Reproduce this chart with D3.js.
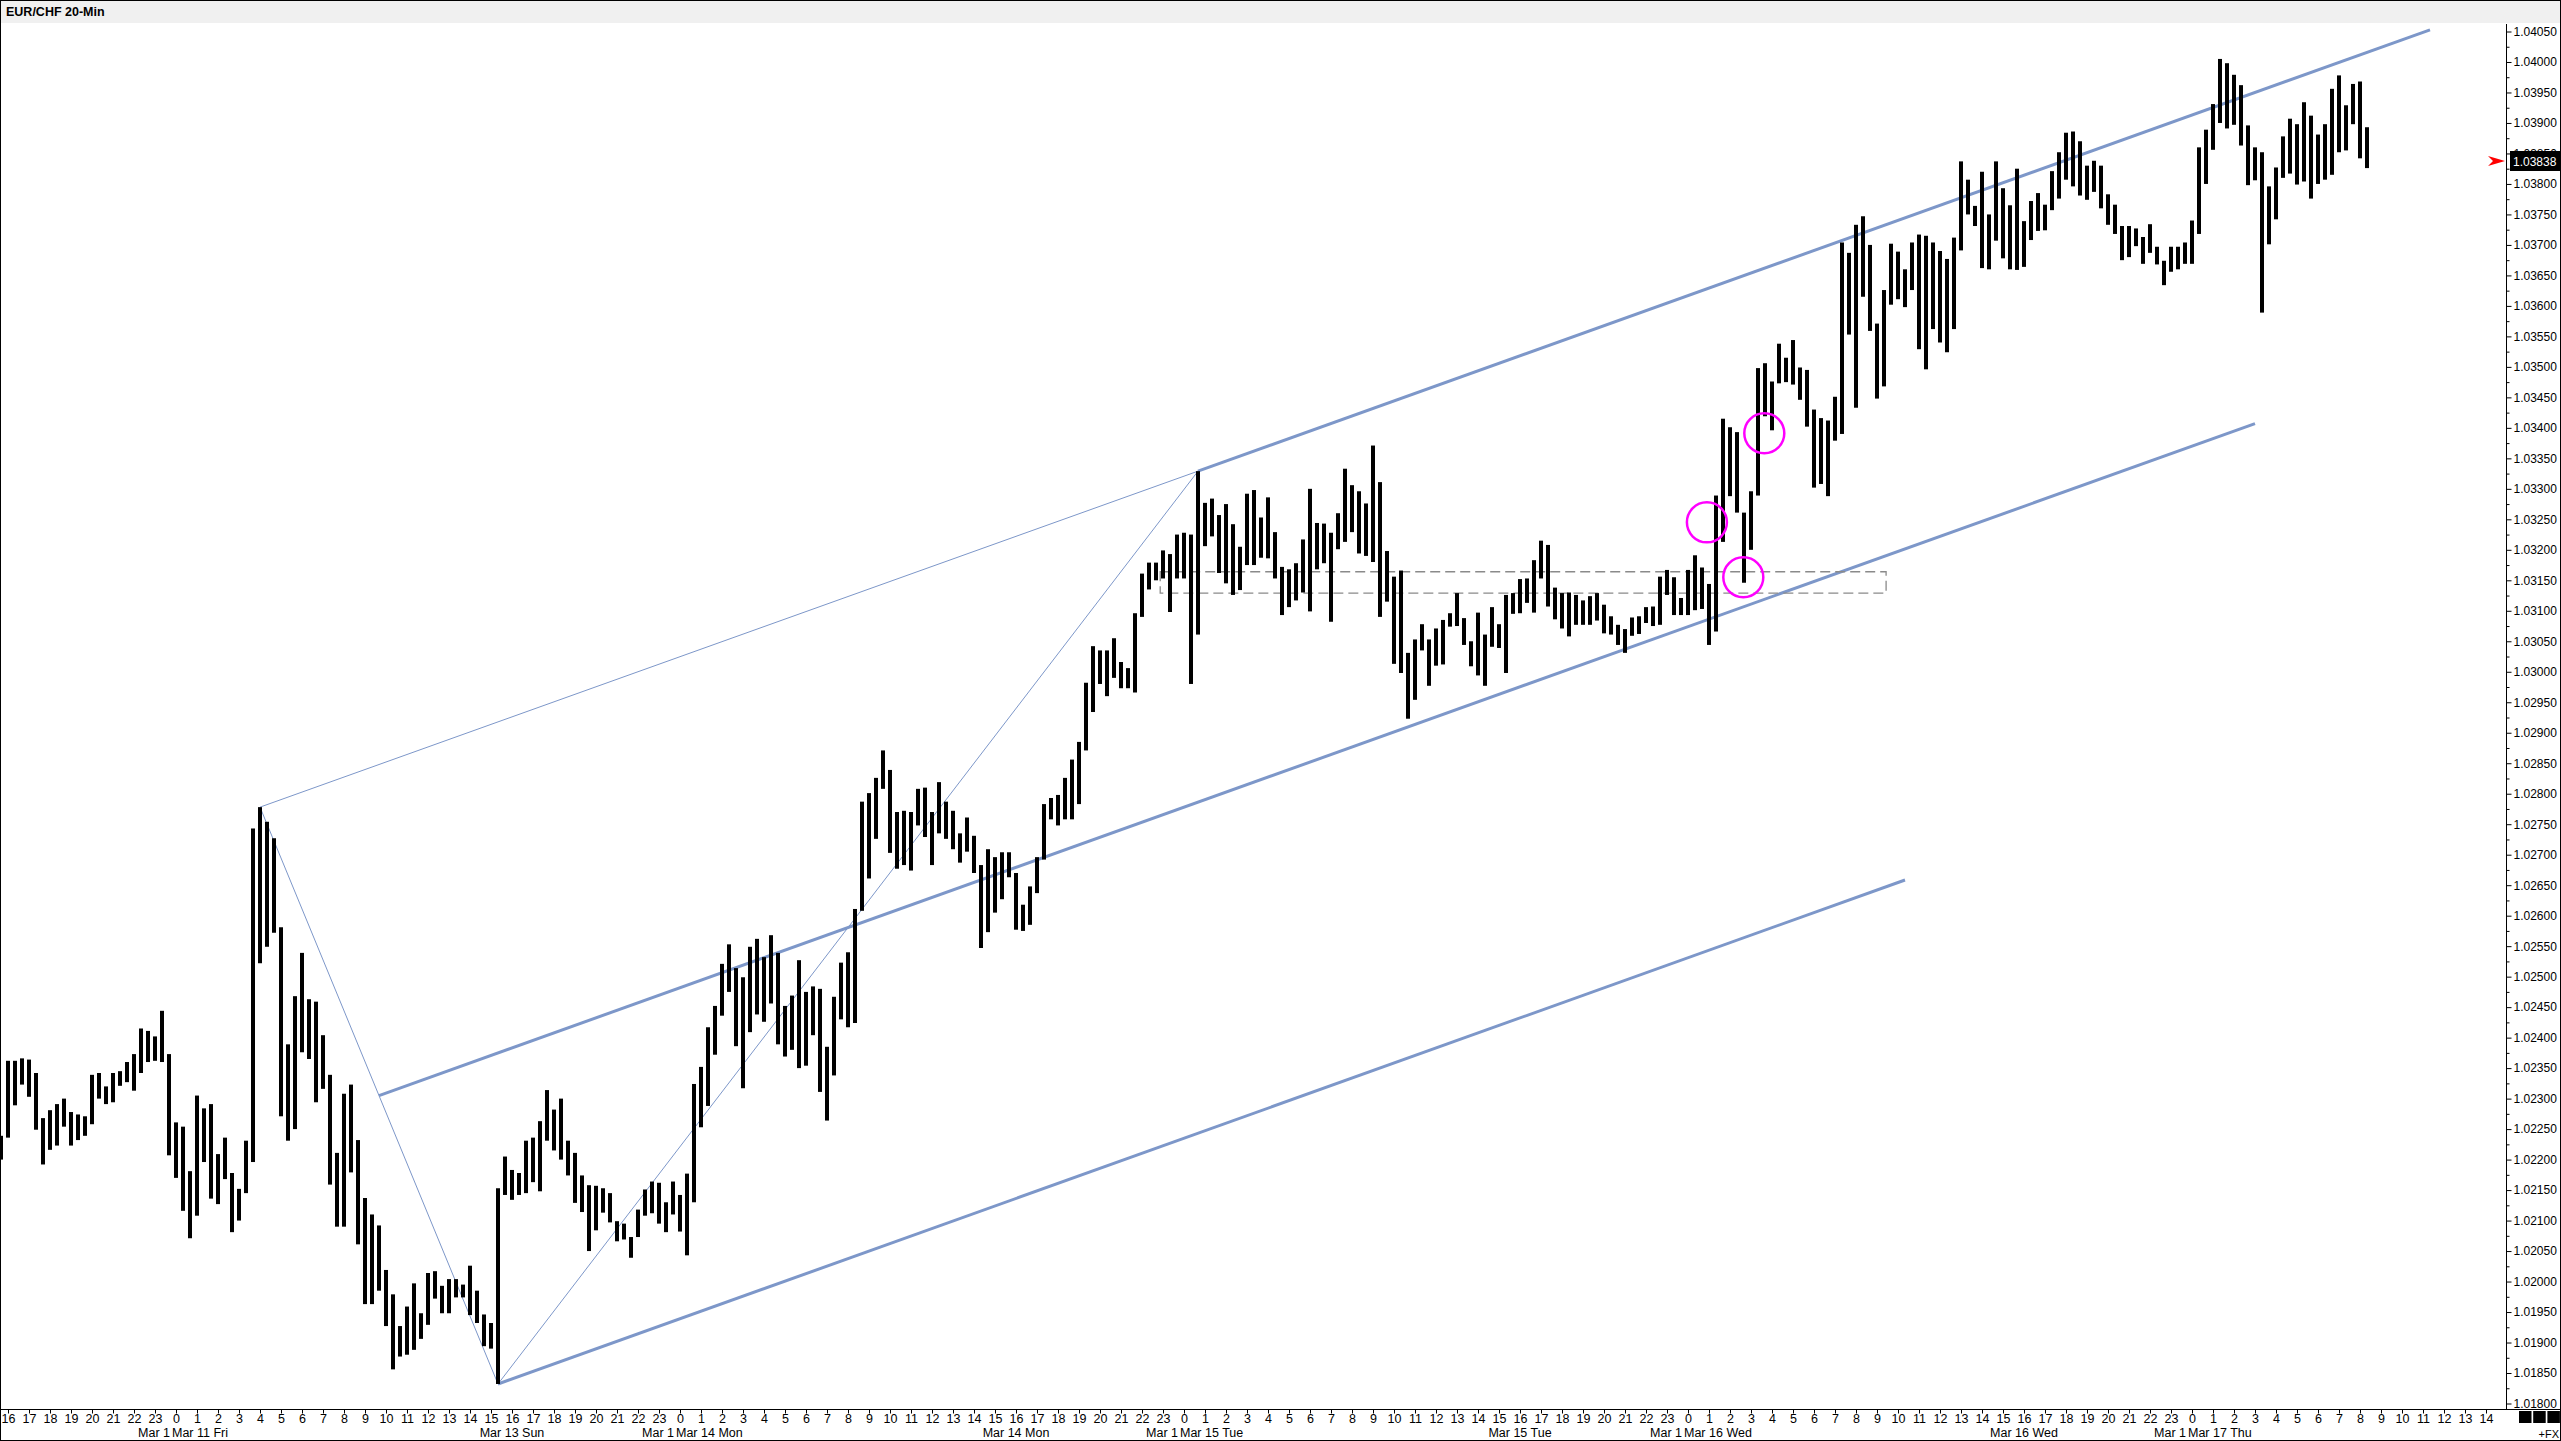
<!DOCTYPE html>
<html>
<head>
<meta charset="utf-8">
<script src="https://cdn.jsdelivr.net/npm/d3@7"></script>
<style>
  body { margin: 0; background: #fff; }
  svg { display: block; font-family: Arial, "Liberation Sans", sans-serif; }
</style>
</head>
<body>
<svg id="chart" width="2561" height="1441"></svg>
<script>
// EUR/CHF 20-min bars, high / low per bar (bar 0 = 15:40 Mar 10)
var highs = [
  1.02239,1.02362,1.02362,1.02366,1.02364,1.02342,1.02268,1.02281,1.02291,1.02300,
  1.02278,1.02274,1.02271,1.02339,1.02342,1.02320,1.02342,1.02345,1.02360,1.02373,
  1.02415,1.02411,1.02402,1.02444,1.02373,1.02261,1.02254,1.02181,1.02305,1.02284,
  1.02291,1.02209,1.02236,1.02178,1.02152,1.02231,1.02743,1.02778,1.02754,1.02727,
  1.02581,1.02389,1.02468,1.02539,1.02463,1.02459,1.02404,1.02339,1.02211,1.02308,
  1.02323,1.02232,1.02137,1.02110,1.02092,1.02019,1.01979,1.01927,1.01959,1.01997,
  1.01948,1.02014,1.02017,1.01993,1.02004,1.02004,1.01995,1.02026,1.01985,1.01946,
  1.01932,1.02153,1.02205,1.02183,1.02178,1.02231,1.02236,1.02263,1.02314,1.02282,
  1.02300,1.02231,1.02211,1.02174,1.02158,1.02157,1.02153,1.02145,1.02099,1.02095,
  1.02073,1.02118,1.02151,1.02164,1.02162,1.02130,1.02164,1.02142,1.02177,1.02324,
  1.02352,1.02417,1.02452,1.02521,1.02553,1.02514,1.02499,1.02549,1.02562,1.02532,
  1.02568,1.02539,1.02452,1.02469,1.02527,1.02475,1.02484,1.02480,1.02385,1.02467,
  1.02523,1.02540,1.02611,1.02787,1.02801,1.02826,1.02871,1.02839,1.02770,1.02772,
  1.02770,1.02808,1.02810,1.02770,1.02819,1.02787,1.02772,1.02735,1.02761,1.02731,
  1.02683,1.02709,1.02696,1.02704,1.02704,1.02670,1.02618,1.02648,1.02696,1.02783,
  1.02793,1.02798,1.02826,1.02856,1.02885,1.02982,1.03042,1.03035,1.03035,1.03055,
  1.03016,1.03006,1.03096,1.03161,1.03179,1.03179,1.03199,1.03193,1.03225,1.03228,
  1.03225,1.03329,1.03277,1.03284,1.03257,1.03275,1.03242,1.03205,1.03292,1.03298,
  1.03253,1.03286,1.03229,1.03172,1.03168,1.03178,1.03217,1.03300,1.03244,1.03243,
  1.03228,1.03260,1.03333,1.03306,1.03296,1.03276,1.03371,1.03311,1.03198,1.03156,
  1.03166,1.03031,1.03053,1.03078,1.03053,1.03071,1.03085,1.03096,1.03129,1.03088,
  1.03050,1.03097,1.03061,1.03106,1.03078,1.03126,1.03129,1.03152,1.03153,1.03183,
  1.03215,1.03208,1.03138,1.03129,1.03130,1.03126,1.03117,1.03124,1.03129,1.03110,
  1.03091,1.03077,1.03070,1.03089,1.03091,1.03106,1.03107,1.03156,1.03167,1.03155,
  1.03121,1.03167,1.03191,1.03171,1.03144,1.03289,1.03415,1.03401,1.03393,1.03261,
  1.03296,1.03498,1.03506,1.03476,1.03538,1.03515,1.03544,1.03499,1.03495,1.03430,
  1.03416,1.03412,1.03451,1.03704,1.03687,1.03733,1.03747,1.03700,1.03571,1.03626,
  1.03702,1.03689,1.03660,1.03704,1.03717,1.03715,1.03704,1.03690,1.03677,1.03712,
  1.03837,1.03807,1.03764,1.03820,1.03750,1.03837,1.03793,1.03765,1.03825,1.03739,
  1.03772,1.03785,1.03766,1.03821,1.03852,1.03884,1.03886,1.03870,1.03830,1.03838,
  1.03830,1.03783,1.03766,1.03731,1.03731,1.03727,1.03713,1.03734,1.03697,1.03674,
  1.03697,1.03697,1.03704,1.03740,1.03860,1.03889,1.03931,1.04005,1.03998,1.03979,
  1.03962,1.03896,1.03860,1.03852,1.03796,1.03827,1.03878,1.03907,1.03898,1.03934,
  1.03912,1.03881,1.03898,1.03956,1.03978,1.03929,1.03964,1.03968,1.03893
];
var lows = [
  1.02200,1.02236,1.02289,1.02323,1.02303,1.02249,1.02192,1.02216,1.02223,1.02254,
  1.02223,1.02232,1.02239,1.02258,1.02300,1.02291,1.02294,1.02321,1.02327,1.02313,
  1.02342,1.02360,1.02362,1.02360,1.02207,1.02170,1.02116,1.02071,1.02108,1.02196,
  1.02136,1.02127,1.02168,1.02081,1.02100,1.02145,1.02196,1.02522,1.02549,1.02572,
  1.02271,1.02231,1.02250,1.02376,1.02365,1.02294,1.02316,1.02159,1.02090,1.02090,
  1.02179,1.02061,1.01963,1.01963,1.01985,1.01927,1.01856,1.01877,1.01880,1.01888,
  1.01906,1.01929,1.01972,1.01948,1.01948,1.01974,1.01974,1.01945,1.01932,1.01894,
  1.01890,1.01832,1.02142,1.02134,1.02142,1.02145,1.02163,1.02148,1.02231,1.02215,
  1.02200,1.02174,1.02129,1.02114,1.02050,1.02084,1.02113,1.02097,1.02066,1.02069,
  1.02039,1.02073,1.02108,1.02112,1.02095,1.02081,1.02110,1.02082,1.02043,1.02130,
  1.02253,1.02288,1.02372,1.02436,1.02475,1.02386,1.02317,1.02409,1.02438,1.02426,
  1.02456,1.02389,1.02369,1.02380,1.02350,1.02354,1.02404,1.02311,1.02264,1.02338,
  1.02430,1.02417,1.02424,1.02608,1.02661,1.02726,1.02808,1.02703,1.02677,1.02683,
  1.02674,1.02748,1.02729,1.02683,1.02735,1.02726,1.02709,1.02687,1.02705,1.02670,
  1.02547,1.02573,1.02605,1.02627,1.02663,1.02577,1.02575,1.02585,1.02637,1.02692,
  1.02758,1.02748,1.02758,1.02758,1.02783,1.02871,1.02934,1.02980,1.02960,1.02990,
  1.02973,1.02973,1.02966,1.03090,1.03135,1.03150,1.03153,1.03098,1.03153,1.03153,
  1.02980,1.03061,1.03206,1.03222,1.03162,1.03145,1.03126,1.03134,1.03175,1.03175,
  1.03187,1.03186,1.03153,1.03093,1.03106,1.03117,1.03130,1.03099,1.03168,1.03178,
  1.03082,1.03201,1.03213,1.03229,1.03194,1.03190,1.03180,1.03090,1.03115,1.03013,
  1.02998,1.02923,1.02954,1.03035,1.02977,1.03010,1.03012,1.03074,1.03075,1.03044,
  1.03009,1.02994,1.02977,1.03041,1.03039,1.02998,1.03095,1.03096,1.03113,1.03097,
  1.03153,1.03107,1.03086,1.03071,1.03058,1.03077,1.03077,1.03077,1.03084,1.03063,
  1.03061,1.03044,1.03031,1.03059,1.03062,1.03080,1.03075,1.03077,1.03126,1.03093,
  1.03093,1.03093,1.03101,1.03103,1.03044,1.03066,1.03213,1.03288,1.03261,1.03146,
  1.03200,1.03289,1.03419,1.03396,1.03473,1.03475,1.03471,1.03446,1.03402,1.03302,
  1.03308,1.03288,1.03379,1.03390,1.03553,1.03433,1.03615,1.03559,1.03448,1.03468,
  1.03602,1.03611,1.03598,1.03626,1.03529,1.03496,1.03562,1.03540,1.03524,1.03562,
  1.03691,1.03750,1.03731,1.03662,1.03660,1.03707,1.03678,1.03660,1.03659,1.03664,
  1.03708,1.03723,1.03724,1.03757,1.03776,1.03807,1.03796,1.03781,1.03774,1.03787,
  1.03760,1.03733,1.03718,1.03675,1.03680,1.03698,1.03669,1.03687,1.03668,1.03634,
  1.03656,1.03660,1.03669,1.03669,1.03718,1.03800,1.03856,1.03900,1.03891,1.03897,
  1.03863,1.03798,1.03806,1.03589,1.03701,1.03742,1.03810,1.03817,1.03799,1.03804,
  1.03776,1.03800,1.03807,1.03815,1.03852,1.03855,1.03898,1.03842,1.03826
];
var lastPrice = 1.03838;

// price axis labels
var priceLabels = [
  "1.01800","1.01850","1.01900","1.01950","1.02000","1.02050","1.02100","1.02150",
  "1.02200","1.02250","1.02300","1.02350","1.02400","1.02450","1.02500","1.02550",
  "1.02600","1.02650","1.02700","1.02750","1.02800","1.02850","1.02900","1.02950",
  "1.03000","1.03050","1.03100","1.03150","1.03200","1.03250","1.03300","1.03350",
  "1.03400","1.03450","1.03500","1.03550","1.03600","1.03650","1.03700","1.03750",
  "1.03800","1.03850","1.03900","1.03950","1.04000","1.04050"
];

// hour labels along the time axis, one every 3 bars, first one on bar 1
var hourLabels = [
  "16","17","18","19","20","21","22","23",
  "0","1","2","3","4","5","6","7","8","9","10","11","12","13","14","15","16","17","18","19","20","21","22","23",
  "0","1","2","3","4","5","6","7","8","9","10","11","12","13","14","15","16","17","18","19","20","21","22","23",
  "0","1","2","3","4","5","6","7","8","9","10","11","12","13","14","15","16","17","18","19","20","21","22","23",
  "0","1","2","3","4","5","6","7","8","9","10","11","12","13","14","15","16","17","18","19","20","21","22","23",
  "0","1","2","3","4","5","6","7","8","9","10","11","12","13","14"
];
// date labels: at the start of a day (index in hourLabels) and in the middle of a day
var dayStarts = [
  { k: 8, text: "Mar 11 Fri" }, { k: 32, text: "Mar 14 Mon" }, { k: 56, text: "Mar 15 Tue" },
  { k: 80, text: "Mar 16 Wed" }, { k: 104, text: "Mar 17 Thu" }
];
var dayMids = [
  { k: 24, text: "Mar 13 Sun" }, { k: 48, text: "Mar 14 Mon" },
  { k: 72, text: "Mar 15 Tue" }, { k: 96, text: "Mar 16 Wed" }
];

// drawing objects (bar index, price)
var pivots = [ { i: 37, p: 1.02778 }, { i: 71, p: 1.01832 }, { i: 171, p: 1.03329 } ];
var forkEnds = { upper: 347, median: 322, lower: 272 };
var zone = { i0: 165.6, i1: 269.3, top: 1.03164, bottom: 1.03129 };
var circles = [ { i: 243.7, p: 1.03245 }, { i: 251.9, p: 1.03391 }, { i: 248.9, p: 1.03155 } ];

var W = 2561, H = 1441;
var plotLeft = 1, plotRight = 2506, plotTop = 24, plotBottom = 1409;
var lineColor = "#7d97c9";

var svg = d3.select("#chart");

var x = d3.scaleLinear().domain([0, 100]).range([1, 701]);
var y = d3.scaleLinear().domain([1.018, 1.0405]).range([1403.5, 31.5]);

// frame + title bar
svg.append("rect").attr("x", 0).attr("y", 0).attr("width", W).attr("height", H).attr("fill", "#fff");
svg.append("rect").attr("x", 1).attr("y", 1).attr("width", W - 2).attr("height", 22).attr("fill", "#f0f0f0");
svg.append("text").attr("x", 6).attr("y", 16).attr("font-size", 12.5).attr("font-weight", "bold")
  .attr("fill", "#000").text("EUR/CHF 20-Min");

svg.append("defs").append("clipPath").attr("id", "plotclip")
  .append("rect").attr("x", plotLeft).attr("y", plotTop)
  .attr("width", plotRight - plotLeft).attr("height", plotBottom - plotTop);

var plot = svg.append("g").attr("clip-path", "url(#plotclip)");

// pitchfork (modified Schiff): thin lines between pivots
var A = pivots[0], B = pivots[1], C = pivots[2];
var thin = [[A, B], [B, C], [A, C]];
plot.selectAll(".thin").data(thin).enter().append("line")
  .attr("class", "thin")
  .attr("x1", function (d) { return x(d[0].i); })
  .attr("y1", function (d) { return y(d[0].p); })
  .attr("x2", function (d) { return x(d[1].i); })
  .attr("y2", function (d) { return y(d[1].p); })
  .attr("stroke", lineColor).attr("stroke-width", 1);

var mAB = { i: (A.i + B.i) / 2, p: (A.p + B.p) / 2 };
var mBC = { i: (B.i + C.i) / 2, p: (B.p + C.p) / 2 };
var slope = (mBC.p - mAB.p) / (mBC.i - mAB.i);
var tines = [
  { s: C, e: forkEnds.upper },
  { s: mAB, e: forkEnds.median },
  { s: B, e: forkEnds.lower }
];
plot.selectAll(".tine").data(tines).enter().append("line")
  .attr("class", "tine")
  .attr("x1", function (d) { return x(d.s.i); })
  .attr("y1", function (d) { return y(d.s.p); })
  .attr("x2", function (d) { return x(d.e); })
  .attr("y2", function (d) { return y(d.s.p + slope * (d.e - d.s.i)); })
  .attr("stroke", lineColor).attr("stroke-width", 3);

// dashed zone
plot.append("rect")
  .attr("x", x(zone.i0)).attr("y", y(zone.top))
  .attr("width", x(zone.i1) - x(zone.i0)).attr("height", y(zone.bottom) - y(zone.top))
  .attr("fill", "none").attr("stroke", "#8a8a8a").attr("stroke-width", 1.3)
  .attr("stroke-dasharray", "10,5");

// bars
plot.selectAll(".bar").data(highs).enter().append("rect")
  .attr("class", "bar")
  .attr("x", function (d, i) { return x(i) - 2; })
  .attr("width", 4)
  .attr("y", function (d) { return y(d); })
  .attr("height", function (d, i) { return Math.max(1, y(lows[i]) - y(d)); })
  .attr("fill", "#000");

// magenta circles
plot.selectAll(".mark").data(circles).enter().append("circle")
  .attr("class", "mark")
  .attr("cx", function (d) { return x(d.i); })
  .attr("cy", function (d) { return y(d.p); })
  .attr("r", 20)
  .attr("fill", "none").attr("stroke", "#ff00ff").attr("stroke-width", 2.5);

// right price axis
var priceVals = priceLabels.map(Number);
var yAxis = d3.axisRight(y).tickValues(priceVals).tickFormat(function (d, i) { return priceLabels[i]; })
  .tickSize(5).tickPadding(2);
var gy = svg.append("g").attr("transform", "translate(" + (plotRight + 0.5) + ",0)").call(yAxis);
gy.select(".domain").remove();
gy.selectAll("text").attr("font-size", 12).attr("font-family", "Arial, 'Liberation Sans', sans-serif").attr("fill", "#000");
gy.selectAll("line").attr("stroke", "#000");

var minorAxis = d3.axisRight(y).tickValues(priceVals.map(function (v) { return v + 0.00025; }).filter(function (v) { return v < 1.0406; }))
  .tickFormat("").tickSize(3);
var gm = svg.append("g").attr("transform", "translate(" + (plotRight + 0.5) + ",0)").call(minorAxis);
gm.select(".domain").remove();
gm.selectAll("line").attr("stroke", "#000");

svg.append("line").attr("x1", plotRight + 0.5).attr("x2", plotRight + 0.5)
  .attr("y1", plotTop).attr("y2", plotBottom).attr("stroke", "#000");

// last price marker (covers the label underneath, as in the platform)
var yl = Math.round(y(lastPrice));
svg.append("rect").attr("x", plotRight + 4).attr("y", yl - 10).attr("width", W - plotRight - 5).attr("height", 20)
  .attr("fill", "#000");
svg.append("text").attr("x", plotRight + 7).attr("y", yl + 4.5).attr("font-size", 12).attr("fill", "#fff")
  .text(lastPrice.toFixed(5));
svg.append("path")
  .attr("d", "M" + (plotRight - 18) + "," + (yl - 5) + " L" + (plotRight - 1) + "," + yl +
    " L" + (plotRight - 18) + "," + (yl + 5) + " L" + (plotRight - 13) + "," + yl + " Z")
  .attr("fill", "#ff0000");

// bottom time axis
var hourBars = hourLabels.map(function (d, k) { return 1 + 3 * k; });
var xAxis = d3.axisBottom(x).tickValues(hourBars).tickFormat(function (d, k) { return hourLabels[k]; })
  .tickSize(4).tickPadding(1);
var gx = svg.append("g").attr("transform", "translate(0," + (plotBottom + 0.5) + ")").call(xAxis);
gx.select(".domain").remove();
gx.selectAll("text").attr("font-size", 12.5).attr("font-family", "Arial, 'Liberation Sans', sans-serif").attr("fill", "#000");
gx.selectAll("line").attr("stroke", "#000");

svg.append("line").attr("x1", 0).attr("x2", W).attr("y1", plotBottom + 0.5).attr("y2", plotBottom + 0.5)
  .attr("stroke", "#000");

var dateY = 1437;
svg.selectAll(".dstart").data(dayStarts).enter().append("text")
  .attr("x", function (d) { return x(hourBars[d.k]) - 4; })
  .attr("y", dateY).attr("font-size", 12.5).attr("fill", "#000")
  .text(function (d) { return d.text; });
svg.selectAll(".dprev").data(dayStarts).enter().append("text")
  .attr("x", function (d) { return x(hourBars[d.k]) - 6; })
  .attr("y", dateY).attr("font-size", 12.5).attr("fill", "#000").attr("text-anchor", "end")
  .text("Mar 1");
svg.selectAll(".dmid").data(dayMids).enter().append("text")
  .attr("x", function (d) { return x(hourBars[d.k]); })
  .attr("y", dateY).attr("font-size", 12.5).attr("fill", "#000").attr("text-anchor", "middle")
  .text(function (d) { return d.text; });

// corner boxes
svg.selectAll(".sq").data([0, 1, 2]).enter().append("rect")
  .attr("x", function (d) { return 2519 + d * 14.2; }).attr("y", 1411)
  .attr("width", 12.5).attr("height", 12).attr("fill", "#000");
svg.append("text").attr("x", 2559).attr("y", 1438).attr("font-size", 11).attr("text-anchor", "end")
  .attr("fill", "#000").text("+FX");

// outer border
svg.append("rect").attr("x", 0.5).attr("y", 0.5).attr("width", W - 1).attr("height", H - 1)
  .attr("fill", "none").attr("stroke", "#000");
</script>
</body>
</html>
